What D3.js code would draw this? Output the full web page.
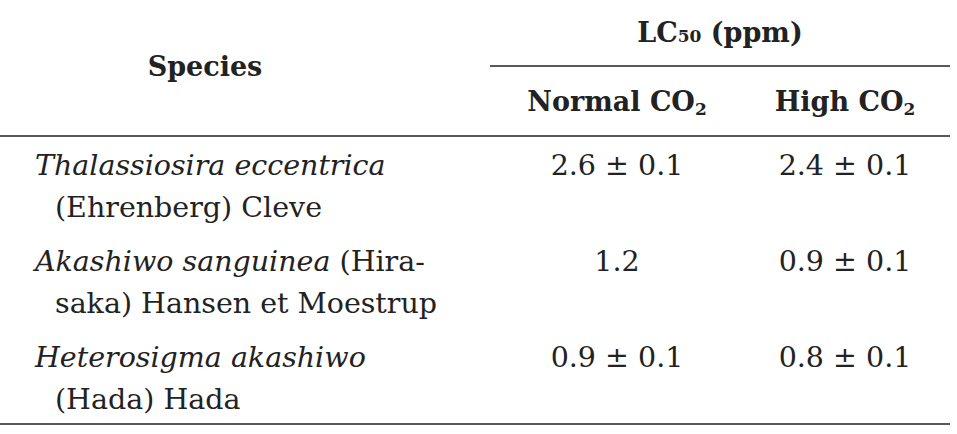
<!DOCTYPE html>
<html><head><meta charset="utf-8">
<script src="https://cdn.jsdelivr.net/npm/d3@7"></script>
<style>body{margin:0;background:#fff}text{font-family:"DejaVu Serif",serif;fill:#222}</style>
</head><body><div id="tbl"></div>
<script>
// Table data
var species = [
  { italic: "Thalassiosira eccentrica", rest: "", line2: "(Ehrenberg) Cleve" },
  { italic: "Akashiwo sanguinea", rest: " (Hira-", line2: "saka) Hansen et Moestrup" },
  { italic: "Heterosigma akashiwo", rest: "", line2: "(Hada) Hada" }
];
var normalCO2 = ["2.6 \u00b1 0.1", "1.2", "0.9 \u00b1 0.1"];
var highCO2 = ["2.4 \u00b1 0.1", "0.9 \u00b1 0.1", "0.8 \u00b1 0.1"];
var columns = ["Normal CO", "High CO"];

var width = 957, height = 434, fs = 27, bfs = 28.5;
var svg = d3.select("#tbl").append("svg").attr("width", width).attr("height", height);

var colX = d3.scalePoint().domain(columns).range([617, 845]);
var rowY = d3.scaleBand().domain(d3.range(species.length)).range([136, 424]);

function rule(x1, x2, y) {
  svg.append("line").attr("x1", x1).attr("x2", x2).attr("y1", y).attr("y2", y)
    .attr("stroke", "#222").attr("stroke-width", 1.3);
}
rule(490, 950, 66);
rule(0, 950, 136);
rule(0, 950, 424);

// Headers
svg.append("text").attr("x", 205).attr("y", 76).attr("text-anchor", "middle")
  .attr("font-size", fs).attr("font-weight", "bold").text("Species");
var lc = svg.append("text").attr("x", 720).attr("y", 42).attr("text-anchor", "middle")
  .attr("font-size", fs).attr("font-weight", "bold");
lc.append("tspan").text("LC");
lc.append("tspan").attr("font-size", 17).text("50");
lc.append("tspan").text(" (ppm)");

columns.forEach(function (c) {
  var t = svg.append("text").attr("x", colX(c)).attr("y", 111).attr("text-anchor", "middle")
    .attr("font-size", fs).attr("font-weight", "bold");
  t.append("tspan").text(c);
  t.append("tspan").attr("font-size", 17).attr("dy", 4).text("2");
});

// Rows
species.forEach(function (s, i) {
  var y0 = rowY(i) + 39;
  var t = svg.append("text").attr("x", 35).attr("y", y0).attr("font-size", bfs);
  t.append("tspan").attr("font-style", "italic").text(s.italic);
  t.append("tspan").text(s.rest);
  svg.append("text").attr("x", 55).attr("y", y0 + 42).attr("font-size", bfs).text(s.line2);
  svg.append("text").attr("x", colX(columns[0])).attr("y", y0).attr("text-anchor", "middle")
    .attr("font-size", bfs).text(normalCO2[i]);
  svg.append("text").attr("x", colX(columns[1])).attr("y", y0).attr("text-anchor", "middle")
    .attr("font-size", bfs).text(highCO2[i]);
});
</script></body></html>
